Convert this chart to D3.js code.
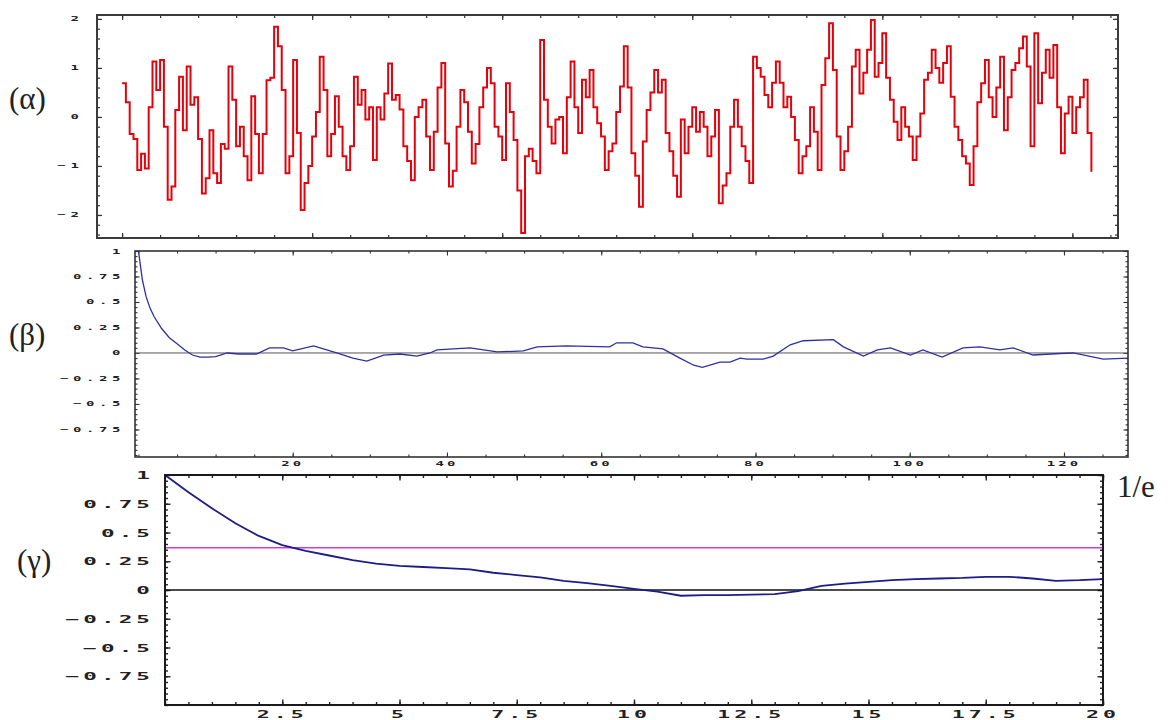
<!DOCTYPE html>
<html>
<head>
<meta charset="utf-8">
<script src="https://cdn.jsdelivr.net/npm/d3@7"></script>
<style>
  body { margin: 0; background: #fff; }
  svg { display: block; }
</style>
</head>
<body>
<svg id="chart" width="1168" height="720"></svg>
<script>
// ── Data ──────────────────────────────────────────────────────────────────

// (α) signal, one value per time step (t = 0 .. 255)
var signal = [
  0.69, 0.30, -0.35, -0.45, -1.08, -0.75, -1.05, 0.20, 1.13, 0.55,
  1.16, -0.20, -1.69, -1.42, 0.14, 0.82, -0.27, 1.03, 0.25, 0.40,
  -0.45, -1.56, -1.25, -0.27, -1.15, -1.35, -0.55, -0.65, 1.03, 0.35,
  -0.60, -0.20, -0.80, -1.29, 0.42, -0.35, -1.15, -0.35, 0.75, 0.80,
  1.84, 1.44, 0.55, -1.15, -0.80, 1.16, -0.33, -1.90, -1.35, -1.00,
  -0.40, 0.10, 1.23, 0.55, -0.80, -0.35, 0.42, -0.20, -0.80, -1.08,
  -0.60, 0.82, 0.25, 0.55, -0.05, 0.20, -0.88, 0.20, -0.05, 0.48,
  1.09, 0.35, 0.45, 0.15, -0.60, -0.90, -1.29, 0.00, 0.20, 0.35,
  -0.40, -1.08, -0.30, 0.60, 1.10, -0.54, -1.42, -1.10, -0.20, 0.55,
  0.30, -0.30, -0.95, -0.55, 0.20, 0.60, 1.00, 0.69, -0.20, -0.40,
  -0.88, 0.69, 0.10, -0.47, -1.50, -2.37, -0.80, -0.65, -0.90, -1.15,
  1.57, 0.35, -0.20, -0.54, -0.05, 0.00, -0.74, 0.40, 1.13, 0.20,
  -0.33, 0.76, 0.40, 0.96, 0.20, -0.13, -0.40, -1.08, -0.70, -0.54,
  0.10, 0.62, 1.44, 0.60, -0.74, -1.20, -1.83, -0.50, 0.14, 0.50,
  0.96, 0.50, 0.76, -0.33, -0.70, -1.20, -1.63, -0.05, -0.74, -0.20,
  0.20, -0.30, 0.10, -0.20, -0.80, -0.40, 0.14, -1.76, -1.40, -1.15,
  -0.20, 0.35, -0.20, -0.60, -0.90, -1.35, 1.23, 1.00, 0.82, 0.45,
  0.20, 0.70, 1.13, 0.70, 0.20, 0.41, 0.00, -0.47, -1.15, -0.80,
  -0.60, 0.20, -0.30, -1.08, 0.65, 1.20, 1.91, 0.96, -0.40, -1.08,
  -0.70, -0.20, 1.03, 1.37, 0.48, 0.90, 1.37, 1.98, 0.82, 1.10,
  1.71, 0.80, 0.35, -0.10, -0.47, 0.20, -0.20, -0.40, -0.88, -0.40,
  0.07, 0.76, 0.90, 1.37, 1.00, 0.70, 1.10, 1.44, 0.41, -0.20,
  -0.47, -0.80, -0.95, -1.39, -0.60, 0.30, 0.69, 1.16, 0.40, 0.00,
  0.60, 1.23, -0.27, 0.40, 0.96, 1.10, 1.40, 1.64, 1.03, -0.60,
  1.71, 0.28, 0.90, 1.37, 0.80, 1.47, 0.20, -0.74, 0.07, 0.41,
  -0.33, 0.20, 0.40, 0.76, -0.33, -1.12
];

// (β) autocorrelation over the full lag range
var acfLag = [0, 0.5, 1, 1.5, 2, 3, 4, 5, 6, 7, 8, 9, 10, 11.5, 13, 15.3, 17, 18.8, 20, 22.7,
  25.7, 27.8, 29.6, 31.8, 33.9, 36.1, 37.8, 38.7, 43, 46.5, 49.9, 51.7, 55.5, 61.1, 62, 64.1,
  65.4, 68, 70.2, 72, 73.1, 75.4, 76.7, 78, 78.9, 81, 82.3, 84.5, 86.2, 90.1, 91.4, 94, 95.8,
  97.5, 100.1, 101.7, 104.2, 106.9, 109.1, 111.7, 113.4, 116, 119.5, 121.2, 125.1, 128.3];
var acfVal = [1, 0.72, 0.55, 0.44, 0.36, 0.24, 0.15, 0.09, 0.03, -0.02, -0.04, -0.04, -0.035, 0, -0.01, -0.01, 0.05, 0.05, 0.02, 0.07,
  0, -0.05, -0.08, -0.02, -0.01, -0.03, 0, 0.03, 0.05, 0.01, 0.02, 0.06, 0.07, 0.06, 0.10, 0.10,
  0.06, 0.04, -0.05, -0.12, -0.14, -0.09, -0.09, -0.05, -0.06, -0.06, -0.03, 0.08, 0.12, 0.13, 0.06, -0.03, 0.03,
  0.05, -0.02, 0.03, -0.04, 0.05, 0.06, 0.03, 0.05, -0.02, -0.005, 0, -0.06, -0.05];

// (γ) close-up of the first part of the autocorrelation
var zoomT = [0, 0.5, 1, 1.5, 2, 2.5, 3, 3.5, 4, 4.5, 5, 5.5, 6, 6.5, 7, 7.5, 8, 8.5, 9, 9.5,
  10, 10.5, 11, 11.5, 12, 12.5, 13, 13.5, 14, 14.5, 15, 15.5, 16, 16.5, 17, 17.5, 18, 18.5, 19, 19.5, 20];
var zoomVal = [1, 0.85, 0.71, 0.58, 0.47, 0.39, 0.34, 0.30, 0.26, 0.23, 0.21, 0.20, 0.19, 0.18, 0.15, 0.13, 0.11, 0.08, 0.06, 0.035,
  0.01, -0.015, -0.05, -0.045, -0.045, -0.04, -0.035, -0.01, 0.035, 0.055, 0.07, 0.085, 0.095, 0.10, 0.105, 0.115, 0.115, 0.10, 0.08, 0.085, 0.095];

var threshold = 1 / Math.E;

// tick values
var aMajorX = [0, 50, 100, 150, 200, 250];
var aMinorX = d3.range(0, 261, 10);
var aMajorY = [-2, -1, 0, 1, 2];
var aMinorY = d3.range(-2.4, 2.01, 0.2);
var bLabelX = [20, 40, 60, 80, 100, 120];
var bMinorX = d3.range(0, 128, 5);
var bLabelY = [-0.75, -0.5, -0.25, 0, 0.25, 0.5, 0.75, 1];
var bMinorY = d3.range(-1, 1.001, 0.05);
var gLabelX = [2.5, 5, 7.5, 10, 12.5, 15, 17.5, 20];
var gMinorX = d3.range(0, 20.01, 0.5);
var gLabelY = [-0.75, -0.5, -0.25, 0, 0.25, 0.5, 0.75, 1];
var gMinorY = d3.range(-1, 1.001, 0.05);

// ── Helpers ───────────────────────────────────────────────────────────────

var svg = d3.select('#chart');
var tickFont = '"DejaVu Sans Mono", monospace';

function fmt(v) {
  var s = String(Math.round(v * 100) / 100);
  return s.replace('-', '\u2212');
}

// inward ticks on all four sides of a frame
function frameTicks(g, x, y, xs, ys, size) {
  var r = x.range(), b = y.range();
  g.append('g').attr('transform', 'translate(0,' + b[0] + ')')
    .call(d3.axisBottom(x).tickValues(xs).tickSize(-size).tickFormat(''));
  g.append('g').attr('transform', 'translate(0,' + b[1] + ')')
    .call(d3.axisTop(x).tickValues(xs).tickSize(-size).tickFormat(''));
  g.append('g').attr('transform', 'translate(' + r[0] + ',0)')
    .call(d3.axisLeft(y).tickValues(ys).tickSize(-size).tickFormat(''));
  g.append('g').attr('transform', 'translate(' + r[1] + ',0)')
    .call(d3.axisRight(y).tickValues(ys).tickSize(-size).tickFormat(''));
}

// wide, squashed tick labels like the original bitmap font
function labels(g, vals, pos, anchor, size, sx, spacing) {
  g.selectAll(null).data(vals).join('text')
    .attr('transform', function(d) { var p = pos(d); return 'translate(' + p[0] + ',' + p[1] + ') scale(' + sx + ',1)'; })
    .attr('text-anchor', anchor)
    .attr('font-family', tickFont)
    .attr('font-weight', 'bold')
    .attr('font-size', size)
    .attr('letter-spacing', spacing)
    .attr('fill', '#222')
    .text(fmt);
}

function cleanAxes(g, color, width) {
  g.selectAll('.domain').remove();
  g.selectAll('.tick line').attr('stroke', color).attr('stroke-width', width);
}

function panelTitle(txt, x, y) {
  svg.append('text').attr('x', x).attr('y', y)
    .attr('font-family', '"Liberation Serif", "Times New Roman", serif')
    .attr('font-size', 31).attr('fill', '#222').text(txt);
}

// ── (α) signal ────────────────────────────────────────────────────────────

var xa = d3.scaleLinear().domain([-6.6, 262]).range([97, 1118]);
var ya = d3.scaleLinear().domain([-2.47, 2.08]).range([238, 15]);
var ga = svg.append('g');

frameTicks(ga, xa, ya, aMinorX, aMinorY, 3);
frameTicks(ga, xa, ya, aMajorX, aMajorY, 5);
cleanAxes(ga, '#333', 1.2);

ga.append('path')
  .datum(signal)
  .attr('fill', 'none')
  .attr('stroke', '#e6000a')
  .attr('stroke-width', 2)
  .attr('d', d3.line().curve(d3.curveStepAfter)
    .x(function(d, i) { return xa(i); })
    .y(function(d) { return ya(d); }));

ga.append('rect').attr('x', 97).attr('y', 15).attr('width', 1118 - 97).attr('height', 238 - 15)
  .attr('fill', 'none').attr('stroke', '#3a3a3a').attr('stroke-width', 2);

labels(ga, aMajorY, function(d) { return [84, ya(d) + 2.5]; }, 'end', 7, 2, 2.5);
panelTitle('(\u03b1)', 9, 109);

// ── (β) autocorrelation ───────────────────────────────────────────────────

var xb = d3.scaleLinear().domain([-0.45, 128.3]).range([135, 1128]);
var yb = d3.scaleLinear().domain([-1.02, 1]).range([457, 251]);
var gb = svg.append('g');

frameTicks(gb, xb, yb, bMinorX, bMinorY, 2.5);
frameTicks(gb, xb, yb, bLabelX, bLabelY, 4.5);
cleanAxes(gb, '#333', 1.1);

gb.append('line').attr('x1', 135).attr('x2', 1128).attr('y1', yb(0)).attr('y2', yb(0))
  .attr('stroke', '#555').attr('stroke-width', 1);

gb.append('path')
  .datum(d3.zip(acfLag, acfVal))
  .attr('fill', 'none')
  .attr('stroke', '#2f2fa0')
  .attr('stroke-width', 1.3)
  .attr('d', d3.line().x(function(d) { return xb(d[0]); }).y(function(d) { return yb(d[1]); }));

gb.append('rect').attr('x', 135).attr('y', 251).attr('width', 1128 - 135).attr('height', 457 - 251)
  .attr('fill', 'none').attr('stroke', '#333').attr('stroke-width', 1.6);

labels(gb, bLabelY, function(d) { return [125, yb(d) + 2.5]; }, 'end', 7, 2, 2.3);
labels(gb, bLabelX, function(d) { return [xb(d), 466]; }, 'middle', 7, 2, 1.5);
panelTitle('(\u03b2)', 9, 345);

// ── (γ) close-up with 1/e level ───────────────────────────────────────────

var xg = d3.scaleLinear().domain([0, 20]).range([165, 1103]);
var yg = d3.scaleLinear().domain([-1, 1]).range([705, 475]);
var gg = svg.append('g');

frameTicks(gg, xg, yg, gMinorX, gMinorY, 3);
frameTicks(gg, xg, yg, gLabelX, gLabelY, 5.5);
cleanAxes(gg, '#222', 1.4);

gg.append('line').attr('x1', 165).attr('x2', 1103).attr('y1', yg(0)).attr('y2', yg(0))
  .attr('stroke', '#111').attr('stroke-width', 1.6);
gg.append('line').attr('x1', 165).attr('x2', 1103).attr('y1', yg(threshold)).attr('y2', yg(threshold))
  .attr('stroke', '#d23cd2').attr('stroke-width', 1.6);

gg.append('path')
  .datum(d3.zip(zoomT, zoomVal))
  .attr('fill', 'none')
  .attr('stroke', '#1c1c8a')
  .attr('stroke-width', 1.8)
  .attr('d', d3.line().x(function(d) { return xg(d[0]); }).y(function(d) { return yg(d[1]); }));

gg.append('rect').attr('x', 165).attr('y', 475).attr('width', 1103 - 165).attr('height', 705 - 475)
  .attr('fill', 'none').attr('stroke', '#1a1a1a').attr('stroke-width', 2);

labels(gg, gLabelY, function(d) { return [154, yg(d) + 4]; }, 'end', 11, 2.05, 2);
labels(gg, gLabelX, function(d) { return [xg(d), 718]; }, 'middle', 10.5, 2.05, 2);
panelTitle('(\u03b3)', 17, 571);
panelTitle('1/e', 1117, 497);
</script>
</body>
</html>
